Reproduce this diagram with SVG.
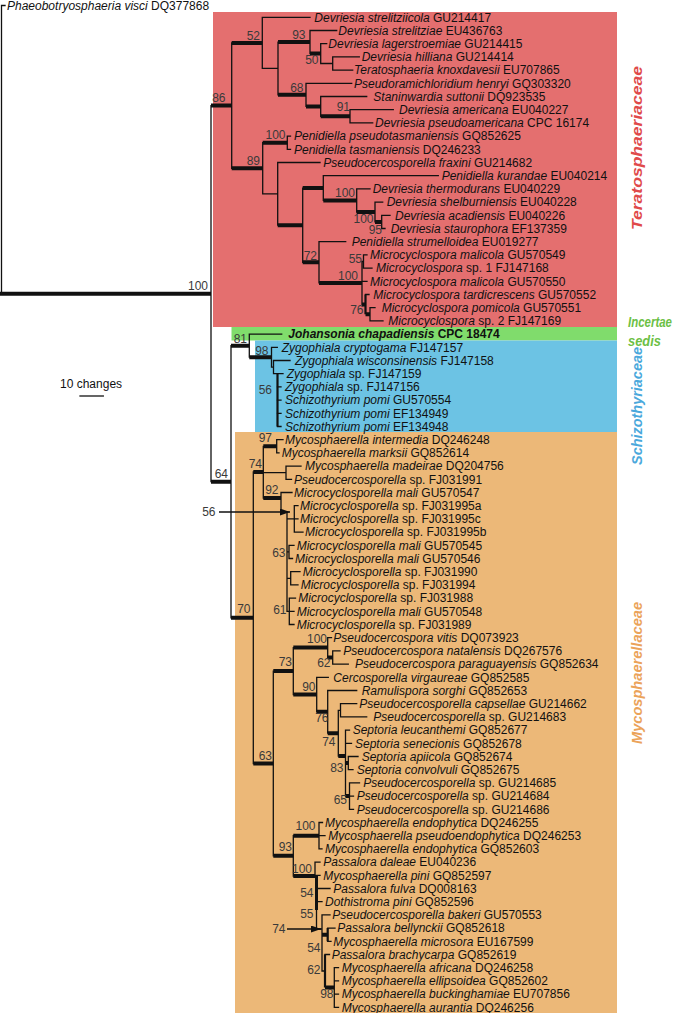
<svg xmlns="http://www.w3.org/2000/svg" width="685" height="1013" viewBox="0 0 685 1013">
<style>
.t{font-family:"Liberation Sans",Arial,sans-serif;font-size:12px;fill:#111}
.i{font-style:italic}
.s{font-family:"Liberation Sans",Arial,sans-serif;font-size:12px;fill:#3a3a3a;text-anchor:end}
.l{fill:none;stroke:#111;stroke-width:1.3;stroke-linecap:square}
.m{fill:none;stroke:#111;stroke-width:2.2}
.k{fill:none;stroke:#111;stroke-width:4}
.f{font-family:"Liberation Sans",Arial,sans-serif;font-weight:bold;font-style:italic;font-size:15px}
</style>
<defs>
<marker id="ah" markerUnits="userSpaceOnUse" markerWidth="10" markerHeight="7" refX="10" refY="3.5" orient="auto"><path d="M0,0L10,3.5L0,7z" fill="#111"/></marker>
</defs>
<rect width="685" height="1013" fill="#fff"/>
<g id="backgrounds">
<rect x="213" y="12" width="404" height="315" fill="#e46f6f"/>
<rect x="231.5" y="327" width="385.5" height="13.5" fill="#80dc6c"/>
<rect x="255" y="340.5" width="362" height="91.5" fill="#6cc3e4"/>
<rect x="235" y="432" width="382" height="581" fill="#ecb878"/>
</g>
<g id="connectors">
<path class="l" d="M1.5,5.5V293.65M1.5,5.5H5M211,105.6V481.7M231.7,42.9V168.3M262.3,17.3V68.45M262.3,17.3H310M262.3,68.45H278M278,42.05V94.85M310,30.5V53.6M310,30.5H336.7M320.7,43.7V63.5M320.7,43.7H326.7M320.7,63.5H332.7M332.7,56.9V70.1M332.7,56.9H359.3M332.7,70.1H352.7M306,83.3V106.4M306,83.3H351.7M320.7,96.5V116.3M320.7,96.5H366.7M350,109.7V122.9M350,109.7H393.3M350,122.9H372.7M262.7,142.7V193.85M262.7,193.85H277.7M287.3,136.1V149.3M287.3,136.1H290.5M287.3,149.3H290.5M277.7,162.5V225.2M277.7,162.5H320M302.7,188.1V262.3M323.3,175.7V200.45M323.3,175.7H438.3M356.7,188.9V212M356.7,188.9H370M375,202.1V221.9M375,202.1H382.7M381.7,215.3V228.5M381.7,215.3H390M381.7,228.5H385M319,241.7V282.95M319,241.7H345.7M362,261.5V304.4M362,261.5H363.5M362,281.3H367M363.5,254.9V268.1M363.5,254.9H367M363.5,268.1H372M365.5,294.5H369M370,307.7V320.9M370,307.7H375M370,320.9H383"/>
<path class="l" d="M231,345.65V617.75M249.3,334.1V357.2M249.3,334.1H281.7M271.5,347.3V367.1M271.5,347.3H277.3M271.5,367.1H273.5M273.5,360.5V373.7M273.5,360.5H290M273.5,373.7H283M277.5,386.9H281M277.5,400.1H281M277.5,413.3H281M277.5,426.5H281"/>
<path class="l" d="M253.3,472V763.5M263.3,446.3V498M263.3,472.7H286M276.7,439.7V452.9M276.7,439.7H283M276.7,452.9H279M286,466.1V479.3M286,466.1H301M286,479.3H291.5M281,492.5V512M281,492.5H292M281,512H287M287,512V611.3M287,518.9H294.3M287,551.9H289M287,578.3H290.7M287,611.3H289.3M294.3,505.7V532.1M294.3,505.7H298M294.3,518.9H298M294.3,532.1H303M289,545.3V558.5M289,545.3H294M289,558.5H292.5M290.7,571.7V584.9M290.7,571.7H300M290.7,584.9H298M289.3,598.1V624.5M289.3,598.1H295.5M289.3,611.3H294M289.3,624.5H294"/>
<path class="l" d="M273.3,671.1V855.85M293.3,647.6V694.55M327.7,637.7V657.5M327.7,637.7H331.5M332.7,650.9V664.1M332.7,650.9H340M332.7,664.1H348.3M316.7,677.3V711.8M316.7,677.3H328.3M327.7,690.5V733.15M327.7,690.5H356.7M338.3,710.3V756M338.3,710.3H340.5M340.5,703.7V716.9M340.5,703.7H356.7M340.5,716.9H366.7M345.5,730.1V796.1M345.5,730.1H349.5M345.5,743.3H351.5M348.3,756.5V769.7M348.3,756.5H358M348.3,769.7H353M349.5,782.9V809.3M349.5,782.9H359.5M349.5,796.1H353.5M349.5,809.3H353.5"/>
<path class="l" d="M293.3,835.7V876M319,822.5V848.9M319,822.5H322.5M319,835.7H325M319,848.9H322M315,862.1V876M315,862.1H320M315,875.3H320M316.5,910V929M316.5,929H322M316.5,888.5H330M316.5,901.7H322M322,914.9V971M322,914.9H330M322,971H325M327.7,928.1H335M327.7,941.3H331M325,954.5H329.5M334.3,967.7V1007.3M334.3,967.7H338.5M334.3,980.9H338.5M334.3,994.1H338.5M334.3,1007.3H338.5"/>
<path class="m" d="M277.5,373.7V426.5M365.5,294.5V314.3M327.7,928.1V941.3M325,954.5V987.5"/>
<path class="m" style="stroke-width:3" d="M316.5,876V910"/>
<path class="k" d="M0,293.65H211M211,105.6H231.7M211,481.7H231M231.7,42.9H262.3M231.7,168.3H262.7M278,42.05H310M278,94.85H306M310,53.6H320.7M306,106.4H320.7M320.7,116.3H350M262.7,142.7H287.3M277.7,225.2H302.7M302.7,188.1H323.3M323.3,200.45H356.7M356.7,212H375M375,221.9H381.7M302.7,262.3H319M319,282.95H362M362,304.4H365.5M365.5,314.3H370M231,345.65H249.3M249.3,357.2H271.5M231,617.75H253.3M253.3,472H263.3M263.3,446.3H276.7M263.3,498H281M253.3,763.5H273.3M273.3,671.1H293.3M293.3,647.6H327.7M327.7,657.5H332.7M293.3,694.55H316.7M316.7,711.8H327.7M327.7,733.15H338.3M338.3,756H345.5M345.5,763.1H348.3M345.5,796.1H349.5M273.3,855.85H293.3M293.3,835.7H319M293.3,876H315M322,934.7H327.7M325,987.5H334.3"/>
<line x1="219" y1="512" x2="290" y2="512" stroke="#111" stroke-width="1.3" marker-end="url(#ah)"/>
<line x1="287" y1="929" x2="321" y2="929" stroke="#111" stroke-width="1.3" marker-end="url(#ah)"/>
</g>
<g id="scale-bar">
<text class="t" x="60" y="387.5">10 changes</text>
<path class="l" d="M80,396H103.3"/>
</g>
<g id="support-values">
<text class="s" x="208" y="289.5">100</text>
<text class="s" x="225.5" y="102">86</text>
<text class="s" x="260" y="39.5">52</text>
<text class="s" x="305.5" y="38.5">93</text>
<text class="s" x="318.5" y="64.3">50</text>
<text class="s" x="303.5" y="91.5">68</text>
<text class="s" x="350" y="111">91</text>
<text class="s" x="285.5" y="138.5">100</text>
<text class="s" x="260" y="164.8">89</text>
<text class="s" x="355" y="196.5">100</text>
<text class="s" x="373.5" y="222.6">100</text>
<text class="s" x="382" y="233.5">95</text>
<text class="s" x="317" y="260">72</text>
<text class="s" x="362" y="263">55</text>
<text class="s" x="358" y="279.5">100</text>
<text class="s" x="363.5" y="313.5">76</text>
<text class="s" x="247" y="342.5">81</text>
<text class="s" x="268.5" y="355">98</text>
<text class="s" x="272" y="394">56</text>
<text class="s" x="272" y="441.5">97</text>
<text class="s" x="228" y="477.5">64</text>
<text class="s" x="262" y="468">74</text>
<text class="s" x="278.5" y="494">92</text>
<text class="s" x="215.5" y="516">56</text>
<text class="s" x="285.5" y="557">63</text>
<text class="s" x="286.5" y="614">61</text>
<text class="s" x="250.5" y="613">70</text>
<text class="s" x="327" y="642.5">100</text>
<text class="s" x="292" y="665.5">73</text>
<text class="s" x="330.5" y="667">62</text>
<text class="s" x="315.5" y="691">90</text>
<text class="s" x="328.5" y="721.5">76</text>
<text class="s" x="335.5" y="746">74</text>
<text class="s" x="272" y="760">63</text>
<text class="s" x="343.5" y="772">83</text>
<text class="s" x="347" y="804.3">65</text>
<text class="s" x="315.5" y="830.3">100</text>
<text class="s" x="292" y="851">93</text>
<text class="s" x="312" y="873">100</text>
<text class="s" x="313.5" y="897">54</text>
<text class="s" x="313.5" y="918.3">55</text>
<text class="s" x="285.5" y="933.3">74</text>
<text class="s" x="320.5" y="951.5">54</text>
<text class="s" x="320.5" y="974.3">62</text>
<text class="s" x="333.5" y="997.5">98</text>
</g>
<g id="taxa">
<g id="taxon-00"><text class="t" x="7" y="10"><tspan class="i">Phaeobotryosphaeria visci</tspan> DQ377868</text></g>
<g id="taxon-01"><text class="t" x="314.3" y="21.5"><tspan class="i">Devriesia strelitziicola</tspan> GU214417</text></g>
<g id="taxon-02"><text class="t" x="338.3" y="34.7"><tspan class="i">Devriesia strelitziae</tspan> EU436763</text></g>
<g id="taxon-03"><text class="t" x="328.3" y="47.9"><tspan class="i">Devriesia lagerstroemiae</tspan> GU214415</text></g>
<g id="taxon-04"><text class="t" x="361.7" y="61.1"><tspan class="i">Devriesia hilliana</tspan> GU214414</text></g>
<g id="taxon-05"><text class="t" x="354" y="74.3"><tspan class="i">Teratosphaeria knoxdavesii</tspan> EU707865</text></g>
<g id="taxon-06"><text class="t" x="354" y="87.5"><tspan class="i">Pseudoramichloridium henryi</tspan> GQ303320</text></g>
<g id="taxon-07"><text class="t" x="373.3" y="100.7"><tspan class="i">Staninwardia suttonii</tspan> DQ923535</text></g>
<g id="taxon-08"><text class="t" x="399" y="113.9"><tspan class="i">Devriesia americana</tspan> EU040227</text></g>
<g id="taxon-09"><text class="t" x="375" y="127.1"><tspan class="i">Devriesia pseudoamericana</tspan> CPC 16174</text></g>
<g id="taxon-10"><text class="t" x="294" y="140.3"><tspan class="i">Penidiella pseudotasmaniensis</tspan> GQ852625</text></g>
<g id="taxon-11"><text class="t" x="294" y="153.5"><tspan class="i">Penidiella tasmaniensis</tspan> DQ246233</text></g>
<g id="taxon-12"><text class="t" x="323.3" y="166.7"><tspan class="i">Pseudocercosporella fraxini</tspan> GU214682</text></g>
<g id="taxon-13"><text class="t" x="441.7" y="179.9"><tspan class="i">Penidiella kurandae</tspan> EU040214</text></g>
<g id="taxon-14"><text class="t" x="372.7" y="193.1"><tspan class="i">Devriesia thermodurans</tspan> EU040229</text></g>
<g id="taxon-15"><text class="t" x="386.7" y="206.3"><tspan class="i">Devriesia shelburniensis</tspan> EU040228</text></g>
<g id="taxon-16"><text class="t" x="395" y="219.5"><tspan class="i">Devriesia acadiensis</tspan> EU040226</text></g>
<g id="taxon-17"><text class="t" x="390.7" y="232.7"><tspan class="i">Devriesia staurophora</tspan> EF137359</text></g>
<g id="taxon-18"><text class="t" x="351.7" y="245.9"><tspan class="i">Penidiella strumelloidea</tspan> EU019277</text></g>
<g id="taxon-19"><text class="t" x="370" y="259.1"><tspan class="i">Microcyclospora malicola</tspan> GU570549</text></g>
<g id="taxon-20"><text class="t" x="376" y="272.3"><tspan class="i">Microcyclospora</tspan> sp. 1 FJ147168</text></g>
<g id="taxon-21"><text class="t" x="370" y="285.5"><tspan class="i">Microcyclospora malicola</tspan> GU570550</text></g>
<g id="taxon-22"><text class="t" x="373.3" y="298.7"><tspan class="i">Microcyclospora tardicrescens</tspan> GU570552</text></g>
<g id="taxon-23"><text class="t" x="381.7" y="311.9"><tspan class="i">Microcyclospora pomicola</tspan> GU570551</text></g>
<g id="taxon-24"><text class="t" x="388.3" y="325.1"><tspan class="i">Microcyclospora</tspan> sp. 2 FJ147169</text></g>
<g id="taxon-25"><text class="t" x="288.3" y="338.3" font-weight="bold"><tspan class="i">Johansonia chapadiensis</tspan> CPC 18474</text></g>
<g id="taxon-26"><text class="t" x="281.7" y="351.5"><tspan class="i">Zygophiala cryptogama</tspan> FJ147157</text></g>
<g id="taxon-27"><text class="t" x="295" y="364.7"><tspan class="i">Zygophiala wisconsinensis</tspan> FJ147158</text></g>
<g id="taxon-28"><text class="t" x="286.7" y="377.9"><tspan class="i">Zygophiala</tspan> sp. FJ147159</text></g>
<g id="taxon-29"><text class="t" x="285" y="391.1"><tspan class="i">Zygophiala</tspan> sp. FJ147156</text></g>
<g id="taxon-30"><text class="t" x="285" y="404.3"><tspan class="i">Schizothyrium pomi</tspan> GU570554</text></g>
<g id="taxon-31"><text class="t" x="285" y="417.5"><tspan class="i">Schizothyrium pomi</tspan> EF134949</text></g>
<g id="taxon-32"><text class="t" x="285" y="430.7"><tspan class="i">Schizothyrium pomi</tspan> EF134948</text></g>
<g id="taxon-33"><text class="t" x="285" y="443.9"><tspan class="i">Mycosphaerella intermedia</tspan> DQ246248</text></g>
<g id="taxon-34"><text class="t" x="281.7" y="457.1"><tspan class="i">Mycosphaerella marksii</tspan> GQ852614</text></g>
<g id="taxon-35"><text class="t" x="305" y="470.3"><tspan class="i">Mycosphaerella madeirae</tspan> DQ204756</text></g>
<g id="taxon-36"><text class="t" x="294" y="483.5"><tspan class="i">Pseudocercosporella</tspan> sp. FJ031991</text></g>
<g id="taxon-37"><text class="t" x="294" y="496.7"><tspan class="i">Microcyclosporella mali</tspan> GU570547</text></g>
<g id="taxon-38"><text class="t" x="300" y="509.9"><tspan class="i">Microcyclosporella</tspan> sp. FJ031995a</text></g>
<g id="taxon-39"><text class="t" x="300" y="523.1"><tspan class="i">Microcyclosporella</tspan> sp. FJ031995c</text></g>
<g id="taxon-40"><text class="t" x="305" y="536.3"><tspan class="i">Microcyclosporella</tspan> sp. FJ031995b</text></g>
<g id="taxon-41"><text class="t" x="296.7" y="549.5"><tspan class="i">Microcyclosporella mali</tspan> GU570545</text></g>
<g id="taxon-42"><text class="t" x="295" y="562.7"><tspan class="i">Microcyclosporella mali</tspan> GU570546</text></g>
<g id="taxon-43"><text class="t" x="302.7" y="575.9"><tspan class="i">Microcyclosporella</tspan> sp. FJ031990</text></g>
<g id="taxon-44"><text class="t" x="300.7" y="589.1"><tspan class="i">Microcyclosporella</tspan> sp. FJ031994</text></g>
<g id="taxon-45"><text class="t" x="298.3" y="602.3"><tspan class="i">Microcyclosporella</tspan> sp. FJ031988</text></g>
<g id="taxon-46"><text class="t" x="296.7" y="615.5"><tspan class="i">Microcyclosporella mali</tspan> GU570548</text></g>
<g id="taxon-47"><text class="t" x="296.7" y="628.7"><tspan class="i">Microcyclosporella</tspan> sp. FJ031989</text></g>
<g id="taxon-48"><text class="t" x="333.3" y="641.9"><tspan class="i">Pseudocercospora vitis</tspan> DQ073923</text></g>
<g id="taxon-49"><text class="t" x="343.3" y="655.1"><tspan class="i">Pseudocercospora natalensis</tspan> DQ267576</text></g>
<g id="taxon-50"><text class="t" x="355" y="668.3"><tspan class="i">Pseudocercospora paraguayensis</tspan> GQ852634</text></g>
<g id="taxon-51"><text class="t" x="333.3" y="681.5"><tspan class="i">Cercosporella virgaureae</tspan> GQ852585</text></g>
<g id="taxon-52"><text class="t" x="361.7" y="694.7"><tspan class="i">Ramulispora sorghi</tspan> GQ852653</text></g>
<g id="taxon-53"><text class="t" x="359.3" y="707.9"><tspan class="i">Pseudocercosporella capsellae</tspan> GU214662</text></g>
<g id="taxon-54"><text class="t" x="373.3" y="721.1"><tspan class="i">Pseudocercosporella</tspan> sp. GU214683</text></g>
<g id="taxon-55"><text class="t" x="352.7" y="734.3"><tspan class="i">Septoria leucanthemi</tspan> GQ852677</text></g>
<g id="taxon-56"><text class="t" x="355" y="747.5"><tspan class="i">Septoria senecionis</tspan> GQ852678</text></g>
<g id="taxon-57"><text class="t" x="361.7" y="760.7"><tspan class="i">Septoria apiicola</tspan> GQ852674</text></g>
<g id="taxon-58"><text class="t" x="356.7" y="773.9"><tspan class="i">Septoria convolvuli</tspan> GQ852675</text></g>
<g id="taxon-59"><text class="t" x="363.3" y="787.1"><tspan class="i">Pseudocercosporella</tspan> sp. GU214685</text></g>
<g id="taxon-60"><text class="t" x="356.7" y="800.3"><tspan class="i">Pseudocercosporella</tspan> sp. GU214684</text></g>
<g id="taxon-61"><text class="t" x="356.7" y="813.5"><tspan class="i">Pseudocercosporella</tspan> sp. GU214686</text></g>
<g id="taxon-62"><text class="t" x="325" y="826.7"><tspan class="i">Mycosphaerella endophytica</tspan> DQ246255</text></g>
<g id="taxon-63"><text class="t" x="328.3" y="839.9"><tspan class="i">Mycosphaerella pseudoendophytica</tspan> DQ246253</text></g>
<g id="taxon-64"><text class="t" x="325" y="853.1"><tspan class="i">Mycosphaerella endophytica</tspan> GQ852603</text></g>
<g id="taxon-65"><text class="t" x="323.3" y="866.3"><tspan class="i">Passalora daleae</tspan> EU040236</text></g>
<g id="taxon-66"><text class="t" x="323.3" y="879.5"><tspan class="i">Mycosphaerella pini</tspan> GQ852597</text></g>
<g id="taxon-67"><text class="t" x="333.3" y="892.7"><tspan class="i">Passalora fulva</tspan> DQ008163</text></g>
<g id="taxon-68"><text class="t" x="325" y="905.9"><tspan class="i">Dothistroma pini</tspan> GQ852596</text></g>
<g id="taxon-69"><text class="t" x="332.3" y="919.1"><tspan class="i">Pseudocercosporella bakeri</tspan> GU570553</text></g>
<g id="taxon-70"><text class="t" x="337.3" y="932.3"><tspan class="i">Passalora bellynckii</tspan> GQ852618</text></g>
<g id="taxon-71"><text class="t" x="333.3" y="945.5"><tspan class="i">Mycosphaerella microsora</tspan> EU167599</text></g>
<g id="taxon-72"><text class="t" x="331.7" y="958.7"><tspan class="i">Passalora brachycarpa</tspan> GQ852619</text></g>
<g id="taxon-73"><text class="t" x="341.7" y="971.9"><tspan class="i">Mycosphaerella africana</tspan> DQ246258</text></g>
<g id="taxon-74"><text class="t" x="341.7" y="985.1"><tspan class="i">Mycosphaerella ellipsoidea</tspan> GQ852602</text></g>
<g id="taxon-75"><text class="t" x="341.7" y="998.3"><tspan class="i">Mycosphaerella buckinghamiae</tspan> EU707856</text></g>
<g id="taxon-76"><text class="t" x="341.7" y="1011.5"><tspan class="i">Mycosphaerella aurantia</tspan> DQ246256</text></g>
</g>
<g id="family-labels">
<g id="fam-teratosphaeriaceae"><text class="f" fill="#e04a4a" text-anchor="middle" transform="translate(641.5,148) rotate(-90)" textLength="164" lengthAdjust="spacingAndGlyphs">Teratosphaeriaceae</text></g>
<g id="fam-incertae-sedis"><text class="f" fill="#6cbf45" x="628" y="327" textLength="44" lengthAdjust="spacingAndGlyphs">Incertae</text><text class="f" fill="#6cbf45" x="628" y="345.5" textLength="33" lengthAdjust="spacingAndGlyphs">sedis</text></g>
<g id="fam-schizothyriaceae"><text class="f" fill="#4aa8dc" text-anchor="middle" transform="translate(641.5,406) rotate(-90)" textLength="118" lengthAdjust="spacingAndGlyphs">Schizothyriaceae</text></g>
<g id="fam-mycosphaerellaceae"><text class="f" fill="#eba35a" text-anchor="middle" transform="translate(641.5,673) rotate(-90)" textLength="142" lengthAdjust="spacingAndGlyphs">Mycosphaerellaceae</text></g>
</g>
</svg>
